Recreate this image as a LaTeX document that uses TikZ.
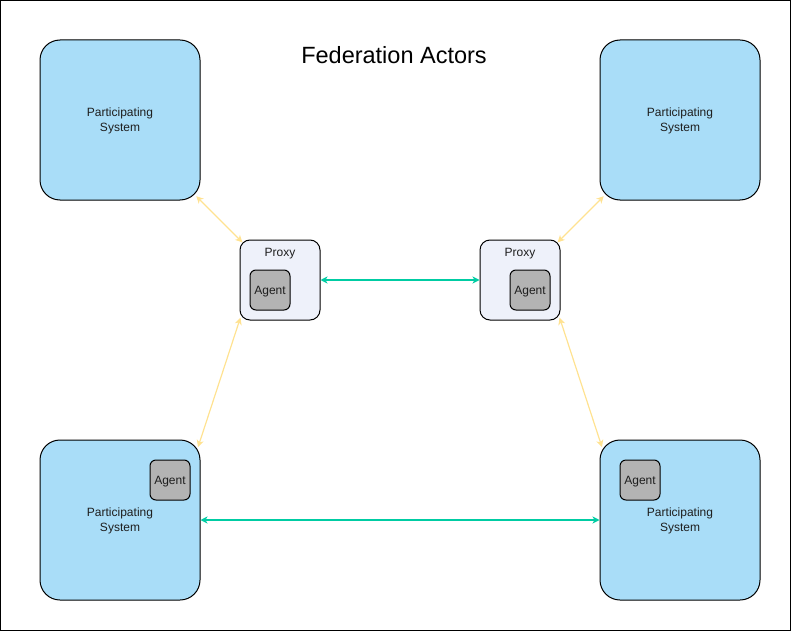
\documentclass[tikz,border=0pt]{standalone}
\usepackage{fontspec}
\setmainfont{Liberation Sans}
\usetikzlibrary{arrows.meta}

\definecolor{sysblue}{RGB}{169,221,248}
\definecolor{proxyfill}{RGB}{238,241,250}
\definecolor{agentgray}{RGB}{179,179,179}
\definecolor{linkyellow}{RGB}{255,226,145}
\definecolor{linkteal}{RGB}{0,204,163}
\definecolor{txt}{RGB}{30,30,30}

\begin{document}
\begin{tikzpicture}[x=1pt, y=-1pt,
  system/.style={draw, line width=1pt, rounded corners=20pt, fill=sysblue,
    minimum width=160pt, minimum height=160pt, inner sep=0pt, align=center,
    text=txt, font=\fontsize{12}{15}\selectfont},
  proxybox/.style={draw, line width=1pt, rounded corners=10pt, fill=proxyfill,
    minimum width=80pt, minimum height=80pt, inner sep=0pt},
  agentbox/.style={draw, line width=1pt, rounded corners=6pt, fill=agentgray,
    minimum width=40pt, minimum height=40pt, inner sep=0pt, text depth=0pt,
    text=txt, font=\fontsize{12}{14}\selectfont},
  lbl/.style={text=txt, font=\fontsize{12}{14}\selectfont, inner sep=0pt},
  fedlink/.style={line width=1.2pt, draw=linkyellow,
    {Stealth[length=7pt,width=7pt,inset=2pt]}-{Stealth[length=7pt,width=7pt,inset=2pt]}},
  peerlink/.style={line width=1.2pt, draw=linkteal,
    {Stealth[length=7pt,width=7pt,inset=2pt]}-{Stealth[length=7pt,width=7pt,inset=2pt]}}]
  % 틀
  \useasboundingbox (0,0) rectangle (791,631);
  \draw[line width=1pt] (0.5,0.5) rectangle (790.5,630.5);
  % 제목
  \node (title) at (394,55) [text=black, font=\fontsize{23.5}{27}\selectfont] {Federation Actors};
  % 참여 시스템
  \node (psTL) at (120,120) [system, text depth=0pt] {Participating\\System};
  \node (psTR) at (680,120) [system, text depth=0pt] {Participating\\System};
  \node (psBL) at (120,520) [system, text depth=0pt] {Participating\\System};
  \node (psBR) at (680,520) [system, text depth=0pt] {Participating\\System};
  % 프록시
  \node (proxyL) at (280,280) [proxybox] {};
  \node (proxyR) at (520,280) [proxybox] {};
  \node (proxyLlbl) at (280,254) [lbl] {Proxy};
  \node (proxyRlbl) at (520,254) [lbl] {Proxy};
  % 에이전트
  \node (agentPL) at (270,290) [agentbox] {Agent};
  \node (agentPR) at (530,290) [agentbox] {Agent};
  \node (agentBL) at (170,480) [agentbox] {Agent};
  \node (agentBR) at (640,480) [agentbox] {Agent};
  % 연결
  \draw[fedlink, shorten <=-6pt, shorten >=-4pt] (psTL) -- (proxyL);
  \draw[fedlink, shorten <=-6pt, shorten >=-4pt] (psTR) -- (proxyR);
  \draw[fedlink, shorten <=-3pt, shorten >=-8pt] (proxyL.south west) -- (psBL.north east);
  \draw[fedlink, shorten <=-3pt, shorten >=-8pt] (proxyR.south east) -- (psBR.north west);
  \draw[peerlink] (proxyL) -- (proxyR);
  \draw[peerlink] (psBL) -- (psBR);
\end{tikzpicture}
\end{document}
